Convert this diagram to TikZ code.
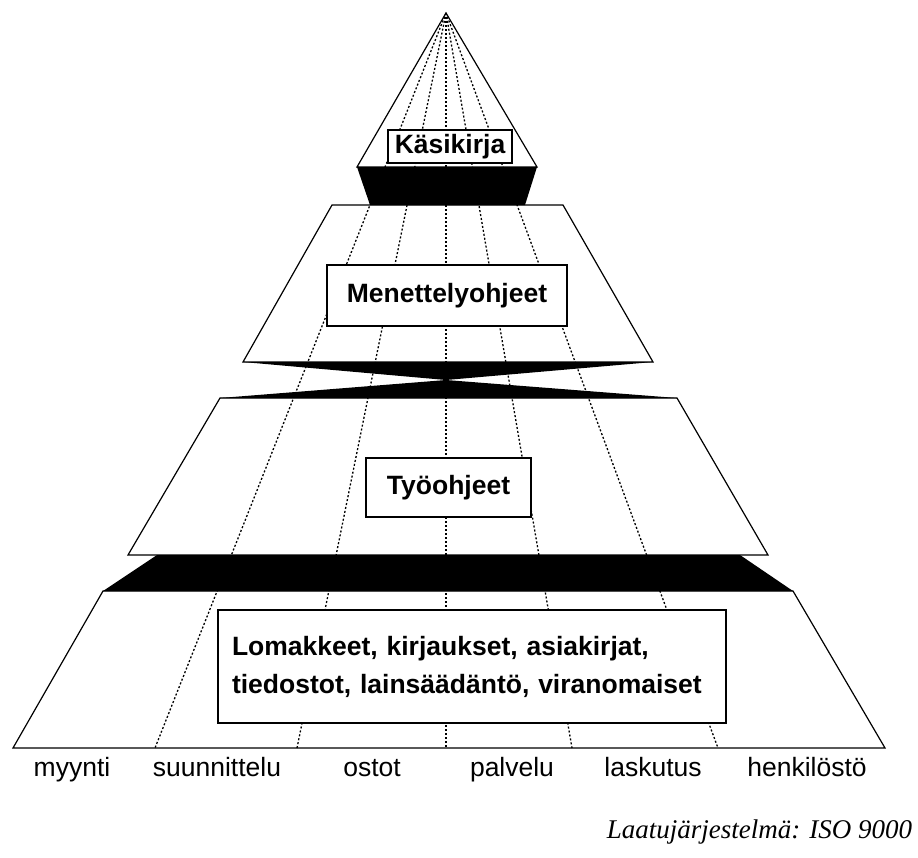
\documentclass[tikz,border=0pt]{standalone}
\usepackage{fontspec}
\setmainfont{Liberation Sans}
\newfontfamily\captionfont{Liberation Serif}
\begin{document}
\begin{tikzpicture}[x=1pt, y=-1pt, line width=1.2pt,
        layer/.style={draw, fill=white, line join=miter},
        band/.style={fill=black},
        ruler/.style={line width=1.3pt, dash pattern=on 2pt off 2pt},
        title/.style={draw, fill=white, line width=1.5pt, inner sep=0pt,
            font=\bfseries\fontsize{26.5}{40}\selectfont},
        unit/.style={anchor=base, font=\fontsize{26.5}{30}\selectfont}]
        \useasboundingbox (0, 0) rectangle (918, 857);
        \pgfmathsetmacro\apexx{446};
        \pgfmathsetmacro\apexy{13};
        \pgfmathsetmacro\base{748};

        \coordinate (apex) at (\apexx, \apexy);

        % the four layers
        \draw[layer] (apex) -- (357, 167) -- (537, 167) -- cycle;
        \draw[layer] (332, 205) -- (563, 205) -- (653, 362) --
            (243, 362) -- cycle;
        \draw[layer] (220, 398) -- (677, 398) -- (768, 555) --
            (128, 555) -- cycle;
        \draw[layer] (103, 591) -- (793, 591) -- (885, \base) --
            (13, \base) -- cycle;

        % dotted lines from the apex
        \foreach \x [count=\i] in {155, 297, 446, 572, 718} {
            \coordinate (foot\i) at (\x, \base);
            \draw[ruler] (apex) -- (foot\i);
        }

        % black bands
        \fill[band] (357, 167) -- (537, 167) -- (525, 205) --
            (370, 205) -- cycle;
        \coordinate (waist) at (\apexx, 380);
        \fill[band] (243, 362) -- (653, 362) -- (waist) -- cycle;
        \fill[band] (220, 398) -- (677, 398) -- (waist) -- cycle;
        \fill[band] (157, 555) -- (740, 555) -- (793, 591) --
            (103, 591) -- cycle;

        % boxes
        \node[title, minimum width=124pt, minimum height=33pt] (handbook)
            at (450, 146.5) {Käsikirja};
        \node[title, minimum width=240pt, minimum height=61pt] (procedures)
            at (447, 295.5) {Menettelyohjeet};
        \node[title, minimum width=165pt, minimum height=59pt] (instructions)
            at (448.5, 487.5) {Työohjeet};
        \node[title, minimum height=113pt, inner xsep=14pt, align=left,
            text width=480pt] (records) at (472, 666.5)
            {Lomakkeet, kirjaukset, asiakirjat,\\[-2pt]
            tiedostot, lainsäädäntö, viranomaiset\\[6pt]};

        % functions
        \foreach \name/\x [count=\i] in {myynti/72, suunnittelu/217,
            ostot/372, palvelu/512, laskutus/653, henkilöstö/807}
            \node[unit] (function\i) at (\x, 776) {\name};

        \node[anchor=east,
            font=\captionfont\itshape\fontsize{27}{30}\selectfont]
            (caption) at (916, 832) {Laatujärjestelmä: ISO 9000};
    \end{tikzpicture}
\end{document}
